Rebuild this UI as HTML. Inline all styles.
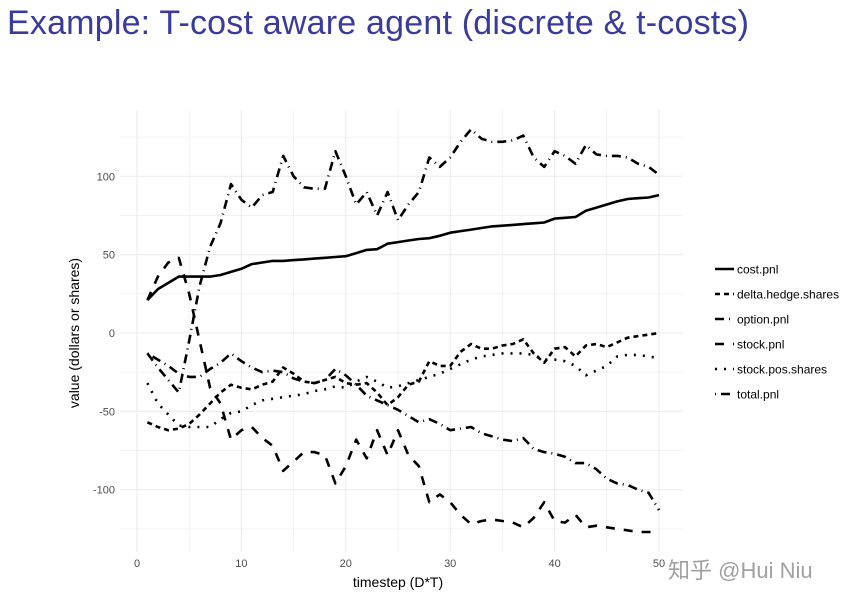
<!DOCTYPE html>
<html><head><meta charset="utf-8"><style>
body{margin:0;background:#fff;width:860px;height:601px;overflow:hidden;font-family:"Liberation Sans",sans-serif}
#title{position:absolute;left:7px;top:4px;font-size:34px;color:#3b3b9c;white-space:nowrap;letter-spacing:0.2px}
#wm{position:absolute;left:668px;top:553px;font-size:22px;color:#a0a0a0;font-family:"Liberation Sans","Noto Sans CJK SC",sans-serif;white-space:nowrap}
</style></head><body>
<div id="title">Example: T-cost aware agent (discrete &amp; t-costs)</div>
<svg id="chart" width="860" height="601" style="position:absolute;left:0;top:0"></svg>
<div id="wm">知乎 @Hui Niu</div>
<script>
const steps = Array.from({length:50},(_,i)=>i+1);
const costPnl = [21,28,32,36,36,36,36,37,39,41,44,45,46,46,46.5,47,47.5,48,48.5,49,51,53,53.5,57,58,59,60,60.5,62,64,65,66,67,68,68.5,69,69.5,70,70.5,73,73.5,74,78,80,82,84,85.5,86,86.5,88];
const deltaHedgeShares = [-57,-60,-62,-61,-58,-52,-45,-38,-33,-35,-36,-33,-31,-22,-26,-31,-32,-30,-28,-32,-33,-32,-38,-46,-41,-33,-31,-18,-21,-21,-12,-7,-10,-10,-8,-7,-4,-13,-19,-10,-9,-15,-8,-7,-9,-6,-3,-2,-1,0];
const optionPnl = [-13,-22,-30,-38,-5,30,55,70,95,85,80,88,90,113,100,93,92,92,116,100,82,90,75,90,72,82,90,112,106,112,122,130,124,122,122,123,126,112,106,116,113,108,120,114,113,113,112,108,106,101];
const stockPnl = [21,36,45,48,25,-5,-35,-45,-68,-62,-60,-67,-72,-88,-82,-76,-76,-78,-96,-85,-68,-80,-62,-78,-62,-78,-85,-108,-103,-108,-116,-122,-120,-119,-120,-121,-124,-118,-108,-120,-121,-116,-124,-123,-124,-125,-126,-127,-127,-127];
const stockPosShares = [-32,-45,-52,-59,-60,-60,-60,-55,-51,-50,-46,-43,-42,-41,-40,-39,-37,-36,-34,-35,-31,-28,-31,-35,-34,-32,-30,-28,-26,-23,-20,-17,-15,-14,-13,-13,-13,-14,-17,-17,-18,-21,-27,-24,-21,-15,-14,-14,-15,-16];
const totalPnl = [-13,-17,-21,-26,-28,-28,-23,-19,-13,-18,-22,-25,-24,-25,-29,-31,-32,-30,-23,-27,-33,-40,-43,-46,-49,-53,-57,-55,-58,-62,-61,-60,-64,-66,-68,-69,-67,-74,-76,-77,-79,-83,-83,-87,-93,-96,-97,-100,-102,-113];
const xTicks = [0,10,20,30,40,50];
const yTicks = [-100,-50,0,50,100];
const seriesNames = ["cost.pnl","delta.hedge.shares","option.pnl","stock.pnl","stock.pos.shares","total.pnl"];

const NS="http://www.w3.org/2000/svg";
const svg=document.getElementById('chart');
const X=t=>137+t*10.44;
const Y=v=>333-v*1.567;
const P={l:120,r:683,t:110,b:552};
function mk(tag,attrs,parent){const e=document.createElementNS(NS,tag);for(const k in attrs)e.setAttribute(k,attrs[k]);(parent||svg).appendChild(e);return e;}
for(let t=-5;t<=55;t+=5){const x=X(t);if(x<P.l||x>P.r)continue;
 const g=mk('line',{x1:x,x2:x,y1:P.t,y2:P.b,stroke:'#ebebeb','stroke-width':t%10===0?1.1:0.6});
 
 }
for(let v=-150;v<=150;v+=25){const y=Y(v);if(y<P.t||y>P.b)continue;
 const g=mk('line',{x1:P.l,x2:P.r,y1:y,y2:y,stroke:'#ebebeb','stroke-width':v%50===0?1.1:0.6});
 
 }
xTicks.forEach(t=>{const e=mk('text',{x:X(t),y:567,'text-anchor':'middle','font-size':11,fill:'#4d4d4d'});e.textContent=t;
 
 });
yTicks.forEach(v=>{const e=mk('text',{x:115,y:Y(v)+4,'text-anchor':'end','font-size':11,fill:'#4d4d4d'});e.textContent=v;
 
 });
let e=mk('text',{x:398,y:587,'text-anchor':'middle','font-size':14,fill:'#000'});e.textContent='timestep (D*T)';


e=mk('text',{x:79,y:333,'text-anchor':'middle','font-size':14,fill:'#000',transform:'rotate(-90 79 333)'});e.textContent='value (dollars or shares)';


const dashes=["none","5,4","9,5,1,5","9,9","2,7","1,5,9,5"];
const data=[costPnl,deltaHedgeShares,optionPnl,stockPnl,stockPosShares,totalPnl];
data.forEach((vals,i)=>{
 const d=vals.map((v,j)=>(j?'L':'M')+X(steps[j]).toFixed(1)+','+Y(v).toFixed(1)).join('');
 const p=mk('path',{d:d,fill:'none',stroke:'#000','stroke-width':2.6,'stroke-dasharray':dashes[i],'stroke-linejoin':'round'});
 
 
 const ly=269+i*25;
 const k=mk('line',{x1:715,x2:734,y1:ly,y2:ly,stroke:'#000','stroke-width':2.6,'stroke-dasharray':dashes[i]});
 
 
 const t=mk('text',{x:737,y:ly+4.5,'font-size':12,fill:'#000'});t.textContent=seriesNames[i];
 
 
});
</script>
</body></html>
